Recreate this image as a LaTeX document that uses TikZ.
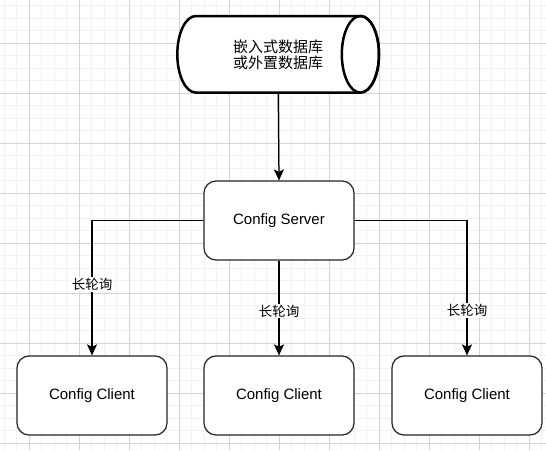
\documentclass[tikz,border=0pt]{standalone}
\usepackage{fontspec}
\setmainfont{Liberation Sans}
\newfontfamily\cjk{Noto Sans CJK SC}
\usetikzlibrary{arrows.meta}
\begin{document}
\begin{tikzpicture}[x=1pt,y=-1pt,
  box/.style={draw=black!85, line width=1.25pt, rounded corners=12pt, fill=white,
    minimum width=150pt, minimum height=79pt, inner sep=0pt, font=\fontsize{15}{18}\selectfont},
  conn/.style={line width=1.25pt, -{Stealth[length=11pt,width=10pt,inset=2.5pt]}},
  lbl/.style={fill=white, inner sep=1pt, font=\cjk\fontsize{13.5}{16}\selectfont}]
\useasboundingbox (0,0) rectangle (546,450);
\fill[white] (0,0) rectangle (546,450);
% minor grid
\foreach \i in {0,...,44} {
  \draw[line width=0.9pt, black!5] ({4.3+12.5*\i},0) -- ({4.3+12.5*\i},450);
  \draw[line width=0.9pt, black!5] (0,{5.8+12.5*\i}) -- (546,{5.8+12.5*\i});
}
% major grid
\foreach \i in {0,...,11} {
  \draw[line width=0.9pt, black!17] ({29.3+50*\i},0) -- ({29.3+50*\i},450);
  \draw[line width=0.9pt, black!17] (0,{-6.7+50*\i}) -- (546,{-6.7+50*\i});
}
% cylinder
\filldraw[fill=white, draw=black, line width=2.5pt]
  (360.4,16) -- (195.9,16)
  arc[start angle=270, end angle=90, x radius=18.6, y radius=38.3]
  -- (360.4,92.6)
  arc[start angle=90, end angle=-90, x radius=18.6, y radius=38.3];
\draw[line width=2.5pt] (360.4,54.3) ellipse[x radius=18.6, y radius=38.3];
\node[inner sep=0pt, minimum width=202pt, minimum height=77pt] (db) at (278.2,54.3) {};
\node[align=center, font=\cjk\fontsize{15}{16.5}\selectfont] (dbtext) at (278,55) {嵌入式数据库\\或外置数据库};
% boxes
\node[box] (server) at (279,220.5) {Config Server};
\node[box] (c1) at (92,395.5) {Config Client};
\node[box] (c2) at (279,395.5) {Config Client};
\node[box] (c3) at (467,395.5) {Config Client};
% connectors
\draw[conn] (db.south) -- (server.north);
\draw[conn] (server.west) -| node[lbl, pos=0.738] (l1) {长轮询} (c1.north);
\draw[conn] (server.south) -- node[lbl, pos=0.53] (l2) {长轮询} (c2.north);
\draw[conn] (server.east) -| node[lbl, pos=0.834] (l3) {长轮询} (c3.north);
\end{tikzpicture}
\end{document}
